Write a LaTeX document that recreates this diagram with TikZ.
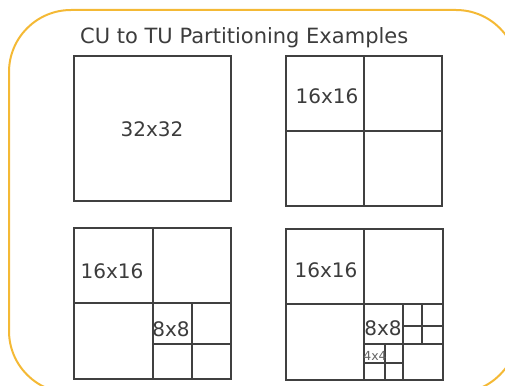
\documentclass[tikz,border=0pt]{standalone}
\usepackage{fontspec}
\setmainfont{DejaVu Sans}
\usetikzlibrary{calc}
\definecolor{framegold}{HTML}{F4B935}
\definecolor{linegray}{HTML}{404040}
\definecolor{textgray}{HTML}{3C3C3C}

\begin{document}
\begin{tikzpicture}[x=1pt,y=-1pt,
  block/.style={draw=linegray,line width=1.3pt},
  size/.style={text=textgray,font=\fontsize{20}{24}\selectfont,inner sep=0pt},
  smallsize/.style={text=textgray!80,font=\fontsize{12.5}{14}\selectfont,inner sep=0pt}]

  \useasboundingbox (0,0) rectangle (505,385);
  \clip (0,0) rectangle (505,385);

  % outer frame, runs past the right and bottom edge
  \draw[framegold,line width=2pt,rounded corners=62pt] (9,10) rectangle (518,393);

  % title
  \node[size,font=\fontsize{21}{25}\selectfont,anchor=west] (title) at (80,38) {CU to TU Partitioning Examples};

  % top left: no split
  \draw[block] (74,56) rectangle (231,201);
  \node[size] (cuA) at (152,129) {32x32};

  % top right: four 16x16
  \draw[block] (286,56) rectangle (442,206);
  \draw[block] (364,56) -- (364,206);
  \draw[block] (286,131) -- (442,131);
  \node[size] (tuB) at (327,96) {16x16};

  % bottom left: one 16x16 split again
  \draw[block] (74,228) rectangle (231,379);
  \draw[block] (153,228) -- (153,379);
  \draw[block] (74,303) -- (231,303);
  \draw[block] (192,303) -- (192,379);
  \draw[block] (153,344) -- (231,344);
  \node[size] (tuC) at (112,271) {16x16};
  \node[size] (subC) at (171,329) {8x8};

  % bottom right: down to 4x4
  \draw[block] (286,229) rectangle (443,380);
  \draw[block] (364,229) -- (364,380);
  \draw[block] (286,304) -- (443,304);
  \draw[block] (403,304) -- (403,380);
  \draw[block] (364,344) -- (443,344);
  \draw[block] (422,304) -- (422,344);
  \draw[block] (403,326) -- (443,326);
  \draw[block] (385,344) -- (385,380);
  \draw[block] (364,363) -- (403,363);
  \node[size] (tuD) at (326,270) {16x16};
  \node[size] (subD) at (383,328) {8x8};
  \node[smallsize] (leafD) at (375,356) {4x4};

\end{tikzpicture}
\end{document}
